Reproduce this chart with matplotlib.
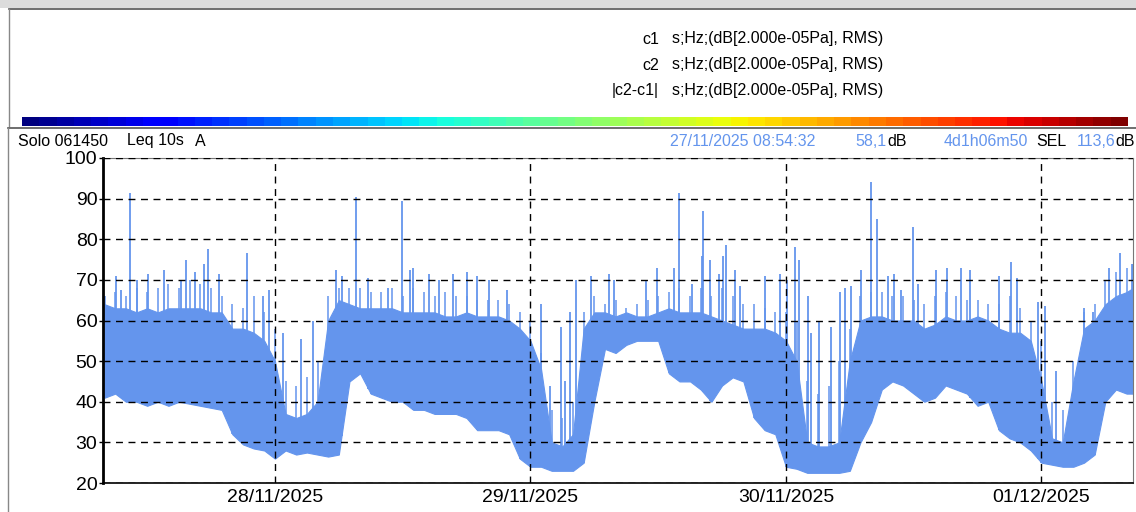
import numpy as np
import pandas as pd
import matplotlib
matplotlib.use('Agg')
import matplotlib.pyplot as plt
import matplotlib.dates as mdates
from matplotlib.patches import Rectangle

plt.rcParams['font.family'] = ['Liberation Sans', 'DejaVu Sans']

# band envelope, one point per hour (hours counted from 27/11/2025 00:00)
hours = list(range(8, 105)) + [104.6]
band_low = [41, 42, 40, 40, 39, 40, 39, 40, 39.5, 39, 38.5, 38, 32, 29.5, 28.5, 28, 26,
            28, 27, 27.5, 27, 26.5, 27, 45, 47, 42, 41, 40, 40, 38, 38, 37, 37, 37, 36,
            33, 33, 33, 32, 26, 24, 24, 23, 23, 23, 25, 40, 53, 52, 54, 55, 55, 55, 47,
            45, 45, 43, 40, 44, 46, 45, 36, 33, 32, 24, 23.5, 22.5, 22.5, 22.5, 22.5, 23,
            30, 35, 43, 45, 44, 42, 40, 41, 44, 43, 42, 39, 40, 33, 31, 30, 28, 25, 24.5,
            24, 24, 25, 27, 40, 43, 42, 42]
band_high = [64, 63, 63, 62, 63, 62, 63, 63, 63, 63, 62, 62, 58, 58, 57, 55, 50,
             37, 36, 37, 40, 60, 65, 64, 63, 63, 63, 63, 62, 62, 62, 62, 61, 61, 62,
             61, 61, 61, 60, 58, 55, 48, 30, 29, 32, 58, 62, 62, 61, 62, 61, 61, 62, 63,
             62, 62, 62, 61, 60, 59, 58, 58, 58, 57, 55, 50, 30, 29, 29, 30, 50,
             60, 61, 61, 60, 60, 60, 58, 59, 61, 60, 60, 61, 60, 58, 57, 57, 55, 45, 31,
             30, 45, 58, 60, 64, 66, 67, 68]
# height reached by the frequent short bursts in each hour
fringe_high = [66, 67, 66, 68, 67, 68, 69, 68, 70, 69, 68, 66,
               64, 63, 66, 62, 58,
               45, 44, 46, 50,
               66, 68,
               68, 68, 67, 67, 68, 66, 68, 67, 66, 67, 66, 66, 65, 65, 65, 64,
               62, 60, 52,
               38, 36, 40, 62,
               66, 64, 65, 63, 64, 65, 66,
               67, 68, 66, 68, 66,
               68, 66, 64, 64, 63, 62,
               62, 60,
               45, 42, 44, 50, 58,
               66, 67, 67, 66, 66, 65,
               64, 66, 67, 66, 65, 65, 64,
               64, 66, 63, 60,
               55, 40, 38, 50,
               62, 64, 70, 72, 73, 74]

# isolated peaks (hour, dB)
peak_hours = [9.07, 9.51, 10.38, 11.0, 12.1, 13.6, 15.17, 15.64, 16.49, 17.36, 17.74, 18.77,
              21.34, 22.85, 23.47, 24.72, 26.44, 27.6, 29.73, 30.26, 31.6, 32.76, 34.64,
              35.9, 36.68, 36.99, 38.46, 39.4, 40.74, 42.03, 43.0, 44.1, 45.8, 48.98,
              49.82, 50.83, 51.23, 51.7, 52.26, 53.67, 55.39, 55.83, 58.84, 59.93, 61.5,
              61.96, 63.13, 64.07, 64.22, 64.9, 65.69, 66.1, 66.35, 67.26, 67.66, 70.0,
              71.4, 72.14, 72.83, 73.23, 74.08, 74.4, 75.11, 76.21, 77.06, 77.53, 78.15,
              79.09, 80.03, 80.6, 81.59, 82.12, 82.85, 83.94, 84.4, 86.13, 87.13, 88.48,
              89.33, 92.01, 93.18, 93.74, 95.68, 96.31, 97.4, 100.0, 100.84, 102.31,
              103.35, 104.55]
peak_db = [71, 67.5, 91.5, 70, 71.5, 72.5, 70, 75, 72, 74, 77.5, 71.5,
           76.5, 66, 67.5, 57, 55.5, 60, 72.5, 71, 90.5, 70.5, 68,
           89.5, 72.5, 73, 71.5, 70, 71.5, 72, 71, 70, 67.5, 64,
           44, 58.5, 45, 62, 70, 71, 71.5, 70, 70, 73, 73,
           91.5, 69, 76, 87, 75, 71.5, 76, 78.5, 72.5, 68.5, 71,
           71.5, 70, 78, 75, 66, 57, 60, 58.5, 67, 68, 68.5,
           72.5, 94, 85, 71, 71.5, 67.5, 83, 69, 72.5, 73, 73,
           72.5, 71, 74.5, 70.5, 64.5, 63.5, 47.5, 63, 62, 73,
           76.5, 74]

y_ticks = [20, 30, 40, 50, 60, 70, 80, 90, 100]
header_names = ['c1', 'c2', '|c2-c1|']
header_unit = 's;Hz;(dB[2.000e-05Pa], RMS)'

t0 = pd.Timestamp('2025-11-27 00:00')
t = t0 + pd.to_timedelta(hours, unit='h')
tp = t0 + pd.to_timedelta(peak_hours, unit='h')
low_at_peak = np.interp(peak_hours, hours, band_low)

blue = '#6495ED'
W, H = 1136, 512
fig = plt.figure(figsize=(W / 100, H / 100), dpi=100)

def fx(px):
    return px / W

def fy(py):
    return 1 - py / H

# window chrome
fig.patches.append(Rectangle((0, fy(8)), 1, 8 / H, transform=fig.transFigure,
                             facecolor='#dcdcdc', edgecolor='none'))
fig.add_artist(plt.Line2D([fx(9), 1], [fy(9), fy(9)], color='#555555', lw=1.2))
fig.add_artist(plt.Line2D([fx(9), fx(9)], [fy(9), fy(126)], color='#888888', lw=1))
fig.add_artist(plt.Line2D([fx(8), 1], [fy(127.5), fy(127.5)], color='#555555', lw=1.2))
fig.add_artist(plt.Line2D([fx(8), fx(8)], [fy(127.5), 0], color='#888888', lw=1))

# header lines
for i, name in enumerate(header_names):
    yy = fy(39 + 26 * i)
    fig.text(fx(659), yy, name, ha='right', va='center', fontsize=11.5)
    fig.text(fx(672), yy, header_unit, ha='left', va='center', fontsize=11.5)

# colour strip
cax = fig.add_axes([fx(22), fy(126), fx(1128 - 22), 9 / H])
cax.imshow(np.arange(64).reshape(1, -1), cmap='jet', aspect='auto')
cax.axis('off')

# info row
yi = fy(141)
fig.text(fx(18), yi, 'Solo 061450', fontsize=11.5, va='center')
fig.text(fx(127), yi, 'Leq 10s', fontsize=11.5, va='center')
fig.text(fx(195), yi, 'A', fontsize=11.5, va='center')
fig.text(fx(670), yi, '27/11/2025 08:54:32', fontsize=11.5, va='center', color=blue)
fig.text(fx(886), yi, '58,1', fontsize=11.5, va='center', color=blue, ha='right')
fig.text(fx(887), yi, 'dB', fontsize=11.5, va='center')
fig.text(fx(944), yi, '4d1h06m50', fontsize=11.5, va='center', color=blue)
fig.text(fx(1036), yi, 'SEL', fontsize=11.5, va='center')
fig.text(fx(1115), yi, '113,6', fontsize=11.5, va='center', color=blue, ha='right')
fig.text(fx(1115), yi, 'dB', fontsize=11.5, va='center')

# main plot
ax = fig.add_axes([fx(103), fy(483), fx(1133 - 103), (483 - 158) / H])
ax.fill_between(t, band_low, band_high, color=blue, lw=0.8, zorder=1)
ax.vlines(t, band_low, fringe_high, color=blue, lw=1.1, zorder=1)
ax.vlines(tp, low_at_peak, peak_db, color=blue, lw=1.3, zorder=1)

ax.set_ylim(20, 100)
ax.set_yticks(y_ticks)
ax.set_xlim(t0 + pd.Timedelta(hours=7.85), t0 + pd.Timedelta(hours=104.6))
ax.xaxis.set_major_locator(mdates.DayLocator())
ax.xaxis.set_major_formatter(mdates.DateFormatter('%d/%m/%Y'))
ax.tick_params(axis='both', labelsize=14, length=3, width=1, color='black')
ax.tick_params(axis='x', length=0, pad=4)
ax.tick_params(axis='y', pad=1)
ax.set_axisbelow(False)
ax.grid(True, color='black', lw=1, ls=(0, (5, 4)), zorder=3)
for s in ['top', 'right']:
    ax.spines[s].set_color('#777777')
ax.spines['left'].set_linewidth(2)
ax.spines['bottom'].set_linewidth(1.2)

fig.savefig('out.png', dpi=100, facecolor='white')
